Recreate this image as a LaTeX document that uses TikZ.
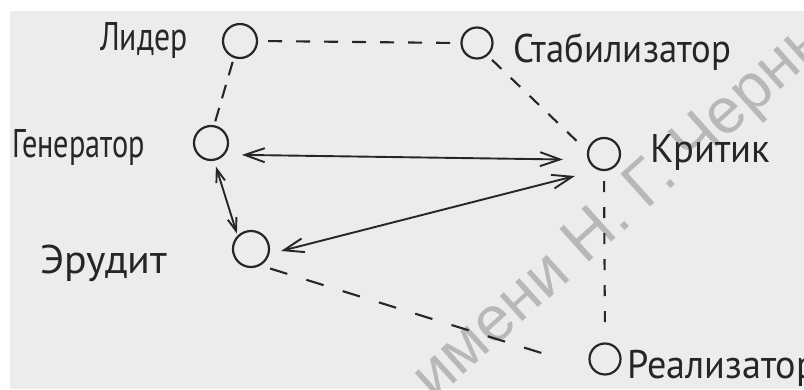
\documentclass[tikz,border=0pt]{standalone}
\usepackage{fontspec}
\newfontfamily\hand[FakeStretch=0.9]{PT Sans}
\newfontfamily\wmfont{Liberation Sans}
\usetikzlibrary{arrows.meta}
\definecolor{paper}{HTML}{ECECEC}
\definecolor{ink}{HTML}{262626}
\definecolor{wm}{HTML}{B8B8B8}
\begin{document}
\begin{tikzpicture}[x=1pt,y=-1pt,
  role/.style={circle,draw=ink,line width=2.2pt,minimum size=34pt,inner sep=0pt},
  lbl/.style={anchor=base west,inner sep=0pt,text=ink,font=\hand\fontsize{40}{44}\selectfont},
  dsh/.style={draw=ink,line width=2.1pt,dash pattern=on 14pt off 14pt},
  arr/.style={draw=ink,line width=1.9pt,{Straight Barb[length=20pt,width=14pt]}-{Straight Barb[length=20pt,width=14pt]}},
  arrs/.style={draw=ink,line width=1.9pt,{Straight Barb[length=13pt,width=9pt]}-{Straight Barb[length=13pt,width=9pt]}}]
\useasboundingbox (0,0) rectangle (804,389);
\fill[white] (0,0) rectangle (804,389);
\fill[paper] (10,11) rectangle (804,389);
% watermark
\node[rotate=42,anchor=base west,inner sep=0pt,text=wm,font=\wmfont\fontsize{64}{64}\selectfont] (wmk) at (434,402) {имени Н. Г. Черны};
% roles
\node[role] (L) at (240,41) {};
\node[role] (G) at (211,143) {};
\node[role,minimum size=36pt] (E) at (251,249) {};
\node[role,minimum size=31pt] (S) at (477,43) {};
\node[role,minimum size=32pt] (K) at (604,154) {};
\node[role,minimum size=31pt] (R) at (605,359) {};
% labels
\node[lbl] (tL) at (100,50) {\scalebox{0.88}[1]{Лидер}};
\node[lbl] (tG) at (12,157) {\scalebox{0.84}[1]{Генератор}};
\node[lbl] (tE) at (40,273) {\scalebox{1.16}[1]{Эрудит}};
\node[lbl] (tS) at (513,62) {\scalebox{1.02}[1]{Стабилизатор}};
\node[lbl] (tK) at (650,162) {\scalebox{1.07}[1]{Критик}};
\node[lbl] (tR) at (627,378) {\scalebox{1.06}[1]{Реализатор}};
% dashed links
\draw[dsh,shorten <=10pt,shorten >=1pt] (L.east) -- (S.west);
\draw[dsh,dash pattern=on 14pt off 10pt,shorten <=4pt,shorten >=2pt] (L.-110) -- (G.80);
\draw[dsh,dash pattern=on 13pt off 13pt,shorten <=6pt,shorten >=6pt] (S.-50) -- (K.170);
\draw[dsh,dash pattern=on 11pt off 15pt,shorten <=10pt,shorten >=16pt] (K.-90) -- (R.90);
\draw[dsh,dash pattern=on 18pt off 20pt,shorten <=10pt,shorten >=36pt] (E.-60) -- (R.215);
% arrows
\draw[arr,shorten <=17pt,shorten >=25pt] (G.-40) -- (K.200);
\draw[arrs,shorten <=6pt,shorten >=2pt] (G.-80) -- (E.135);
\draw[arr,shorten <=12pt,shorten >=24pt] (E.-15) -- (K.250);
\end{tikzpicture}
\end{document}
